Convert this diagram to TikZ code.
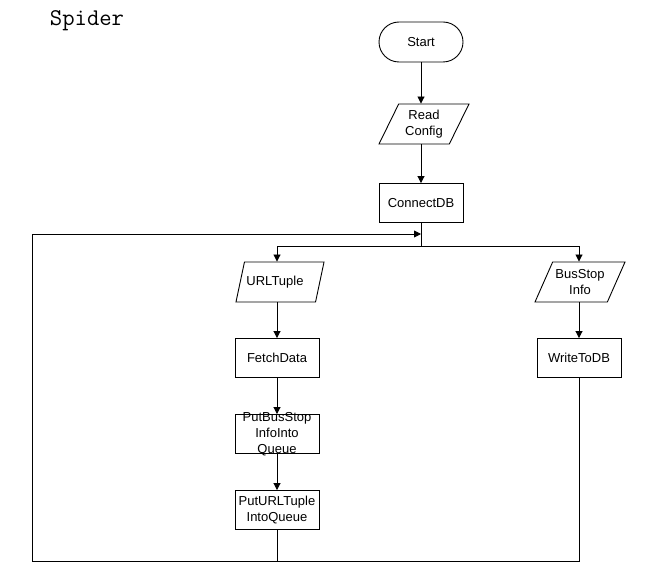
\documentclass[tikz,border=0pt]{standalone}
\usepackage{fontspec}
\setmainfont{Liberation Sans}
\usepackage{tikz}
\usetikzlibrary{shapes.geometric,arrows.meta}

\begin{document}
\begin{tikzpicture}[x=1pt,y=-1pt,line width=0.9pt,
  every node/.style={font=\fontsize{13}{16}\selectfont,align=center},
  arr/.style={-{Triangle[width=7pt,length=7pt]}},
  termnode/.style={draw,rounded corners=20pt,minimum width=84pt,minimum height=40pt},
  procbox/.style={draw,rectangle,minimum width=84pt,minimum height=39pt,inner ysep=-5pt},
  iobox/.style={draw,trapezium,trapezium left angle=55,trapezium right angle=125,
    trapezium stretches body,minimum width=82pt,minimum height=40pt,inner xsep=2pt,inner ysep=0pt}]
\useasboundingbox (0,0) rectangle (658,580);
\node[font=\ttfamily\fontsize{24}{26}\selectfont] (title) at (87,21) {Spider};
% main column
\node[termnode] (start) at (421,42) {Start};
\node[iobox,minimum width=90pt] (read) at (424,124) {Read\\Config};
\node[procbox] (conn) at (421,203) {ConnectDB};
% left branch
\node[iobox] (url) at (280,282) {URLTuple\hspace{10pt}};
\node[procbox] (fetch) at (277,358) {FetchData};
\node[procbox] (putbs) at (277,434) {PutBusStop\\InfoInto\\Queue};
\node[procbox] (putu) at (277,510) {PutURLTuple\\IntoQueue};
% right branch
\node[iobox,minimum width=90pt] (bsi) at (580,282) {BusStop\\Info};
\node[procbox] (write) at (579,358) {WriteToDB};
% helper points
\coordinate (split) at (421,246);
\coordinate (loopin) at (421,234);
\coordinate (loopbl) at (32,561);
\draw[arr] (start) -- (start.south |- read.north);
\draw[arr] (read.south -| conn.north) -- (conn);
\draw (conn.south) -- (split);
\draw[arr] (split) -| (url.north -| fetch.north);
\draw[arr] (split) -| (bsi.north -| write.north);
\draw[arr] (url.south -| fetch.north) -- (fetch);
\draw[arr] (fetch) -- (putbs);
\draw[arr] (putbs) -- (putu);
\draw[arr] (bsi.south -| write.north) -- (write);
\draw[arr] (putu.south) |- (loopbl) |- (loopin);
\draw (write.south) |- (loopbl);
\end{tikzpicture}
\end{document}
